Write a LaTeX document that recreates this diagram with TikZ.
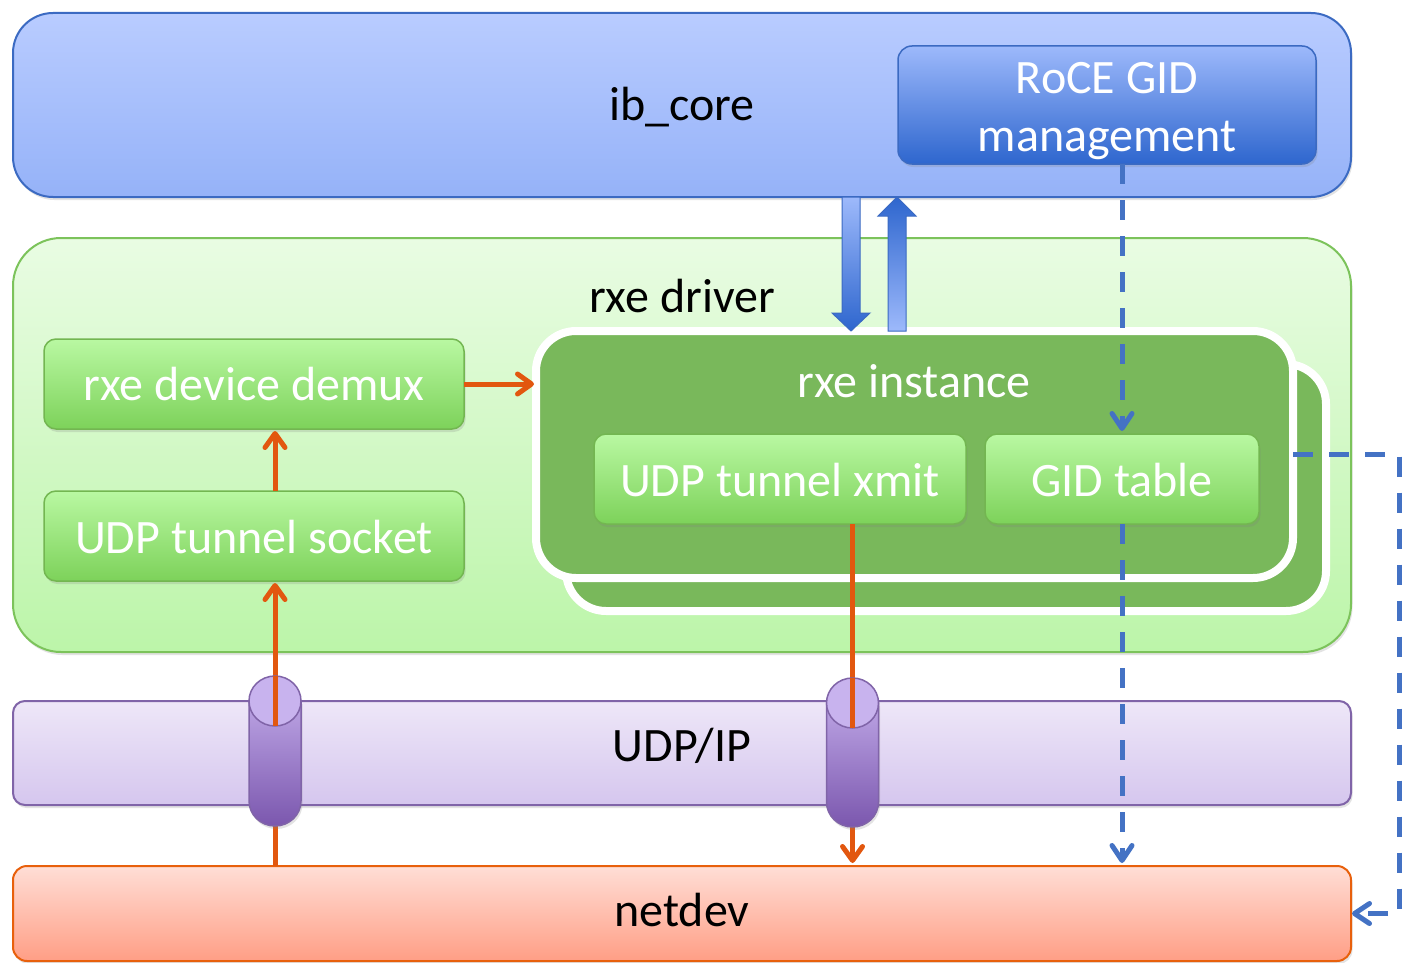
\documentclass[tikz,border=0pt]{standalone}
\usepackage{fontspec}
\setmainfont{Carlito}
\usetikzlibrary{arrows.meta,shadows,calc}
\definecolor{ibtop}{HTML}{B9CCFF}
\definecolor{ibbot}{HTML}{95B2F8}
\definecolor{ibline}{HTML}{3B6AC2}
\definecolor{rocetop}{HTML}{9DB9FB}
\definecolor{rocebot}{HTML}{2E66CE}
\definecolor{drvtop}{HTML}{E9FCE3}
\definecolor{drvbot}{HTML}{BCF5A9}
\definecolor{drvline}{HTML}{7CC35B}
\definecolor{instfill}{HTML}{79B85B}
\definecolor{gtop}{HTML}{B9F8A2}
\definecolor{gbot}{HTML}{7DD25A}
\definecolor{gline}{HTML}{73B651}
\definecolor{ptop}{HTML}{EEE7F8}
\definecolor{pbot}{HTML}{D5C6EE}
\definecolor{pline}{HTML}{8064A8}
\definecolor{cyltop}{HTML}{C8B3EE}
\definecolor{cylhi}{HTML}{BCA4E4}
\definecolor{cylbot}{HTML}{7B57AE}
\definecolor{ntop}{HTML}{FFDED6}
\definecolor{nbot}{HTML}{FF9E85}
\definecolor{nline}{HTML}{E8600C}
\definecolor{orng}{HTML}{E2570F}
\definecolor{dblue}{HTML}{4472C4}
\tikzset{
  shad/.style={drop shadow={shadow xshift=1.5pt, shadow yshift=-3pt, opacity=0.22}},
  layerbox/.style={rectangle, inner sep=0pt, outer sep=0pt, line width=2pt, shad},
  ibbox/.style={layerbox, draw=ibline, top color=ibtop, bottom color=ibbot, rounded corners=40pt},
  rocebox/.style={layerbox, draw=ibline, line width=1.5pt, top color=rocetop, bottom color=rocebot, rounded corners=14pt},
  drvbox/.style={layerbox, draw=drvline, top color=drvtop, bottom color=drvbot, rounded corners=48pt},
  instbox/.style={layerbox, draw=white, line width=8pt, fill=instfill, rounded corners=40pt},
  gbox/.style={layerbox, draw=gline, line width=1.5pt, top color=gtop, bottom color=gbot, rounded corners=12pt},
  pbox/.style={layerbox, draw=pline, top color=ptop, bottom color=pbot, rounded corners=12pt},
  nbox/.style={layerbox, draw=nline, top color=ntop, bottom color=nbot, rounded corners=14pt},
  txt/.style={inner sep=0pt, font=\fontsize{48}{58}\selectfont, text=black},
  wtxt/.style={txt, text=white},
  oarrow/.style={draw=orng, line width=5pt, -{Straight Barb[length=14pt, width=20pt, round]}},
  oline/.style={draw=orng, line width=5pt},
  bdash/.style={draw=dblue, line width=5pt, dash pattern=on 20pt off 16pt, -{Straight Barb[length=15pt, width=20pt, round]}},
  blockdown/.style={draw=ibline, line width=1pt, top color=rocetop, bottom color=rocebot},
  blockup/.style={draw=ibline, line width=1pt, top color=rocebot, bottom color=rocetop},
  cylbody/.style={draw=pline, line width=1.5pt, top color=cylhi, bottom color=cylbot},
  cyltopf/.style={draw=pline, line width=1.5pt, fill=cyltop},
}
\begin{document}
\begin{tikzpicture}[x=1pt,y=-1pt]
\fill[white] (0,0) rectangle (1402,963);
\useasboundingbox (0,0) rectangle (1402,963);
\clip (0,0) rectangle (1402,963);

% layers
\node[ibbox, minimum width=1338pt, minimum height=184pt] (ibcore) at (682,105) {};
\node[txt, anchor=base] (ibcoretxt) at (682,121) {ib\_core};
\node[rocebox, minimum width=418pt, minimum height=118pt] (roce) at (1107,105) {};
\node[wtxt, align=center] (rocetxt) at (1107,111) {RoCE GID\\management};

\node[drvbox, minimum width=1338pt, minimum height=414pt] (driver) at (682,445) {};
\node[txt, anchor=base] (drivertxt) at (682,312) {rxe driver};

\node[instbox, minimum width=760pt, minimum height=247pt] (instback) at (946,487.5) {};
\node[instbox, minimum width=757pt, minimum height=247pt] (inst) at (914.5,454.5) {};
\node[wtxt, anchor=base] (insttxt) at (914,397) {rxe instance};

\node[gbox, minimum width=420pt, minimum height=90pt] (demux) at (254,384) {};
\node[wtxt, anchor=base] (demuxtxt) at (254,400) {rxe device demux};
\node[gbox, minimum width=420pt, minimum height=90pt] (socket) at (254,536) {};
\node[wtxt, anchor=base] (sockettxt) at (254,553) {UDP tunnel socket};
\node[gbox, minimum width=372pt, minimum height=90pt] (xmit) at (780,479) {};
\node[wtxt, anchor=base] (xmittxt) at (780,496) {UDP tunnel xmit};
\node[gbox, minimum width=274pt, minimum height=90pt] (gid) at (1122,479) {};
\node[wtxt, anchor=base] (gidtxt) at (1122,496) {GID table};

\node[pbox, minimum width=1338pt, minimum height=104pt] (udpip) at (682,753) {};
\node[txt, anchor=base] (udpiptxt) at (682,761) {UDP/IP};

\node[nbox, minimum width=1338pt, minimum height=95pt] (netdev) at (682,913.5) {};
\node[txt, anchor=base] (netdevtxt) at (682,926) {netdev};

% reference x positions
\coordinate (pA) at (275,0);
\coordinate (pB) at (852.5,0);
\coordinate (dA) at (851,0);
\coordinate (uA) at (897,0);
\coordinate (rt) at (1399,0);

% orange connectors
\draw[oarrow, shorten >=2pt] (pA |- netdev.north) -- (pA |- socket.south);
\draw[oarrow, shorten >=2pt] (pA |- socket.north) -- (pA |- demux.south);
\draw[oarrow, shorten >=2pt] (demux.east) -- (demux.east -| inst.west);
\draw[oarrow, shorten >=3pt] (pB |- xmit.south) -- (pB |- netdev.north);

% cylinders (tunnels through UDP/IP)
\shadedraw[cylbody, shad] (249,701) -- (249,801) arc[start angle=180, end angle=360, x radius=26pt, y radius=25pt] -- (301,701) -- cycle;
\filldraw[cyltopf] (275,701) ellipse[x radius=26pt, y radius=25pt];
\draw[oline] (pA |- 0,676) -- (pA |- 0,726);
\shadedraw[cylbody, shad] (826.5,703) -- (826.5,802) arc[start angle=180, end angle=360, x radius=26pt, y radius=25pt] -- (878.5,703) -- cycle;
\filldraw[cyltopf] (852.5,703) ellipse[x radius=26pt, y radius=25pt];
\draw[oline] (pB |- 0,678) -- (pB |- 0,728);

% block arrows between ib_core and rxe instance
\shadedraw[blockdown] let \p1=(dA |- ibcore.south), \p2=(dA |- inst.north) in
  (\x1-9pt,\y1) -- (\x1+9pt,\y1) -- (\x1+9pt,\y2+18pt) -- (\x1+19pt,\y2+18pt) -- (\x1,\y2)
  -- (\x1-19pt,\y2+18pt) -- (\x1-9pt,\y2+18pt) -- cycle;
\shadedraw[blockup] let \p1=(uA |- inst.north), \p2=(uA |- ibcore.south) in
  (\x1-9pt,\y1) -- (\x1+9pt,\y1) -- (\x1+9pt,\y2-19pt) -- (\x1+19pt,\y2-19pt) -- (\x1,\y2)
  -- (\x1-19pt,\y2-19pt) -- (\x1-9pt,\y2-19pt) -- cycle;

% blue dashed connectors
\draw[bdash, shorten >=3pt] (gid.north |- roce.south) -- (gid.north);
\draw[bdash, shorten >=3pt] (gid.south) -- (gid.south |- netdev.north);
\draw[bdash, shorten >=1pt] (inst.east) -- (inst.east -| rt) |- (netdev.east);
\end{tikzpicture}
\end{document}
